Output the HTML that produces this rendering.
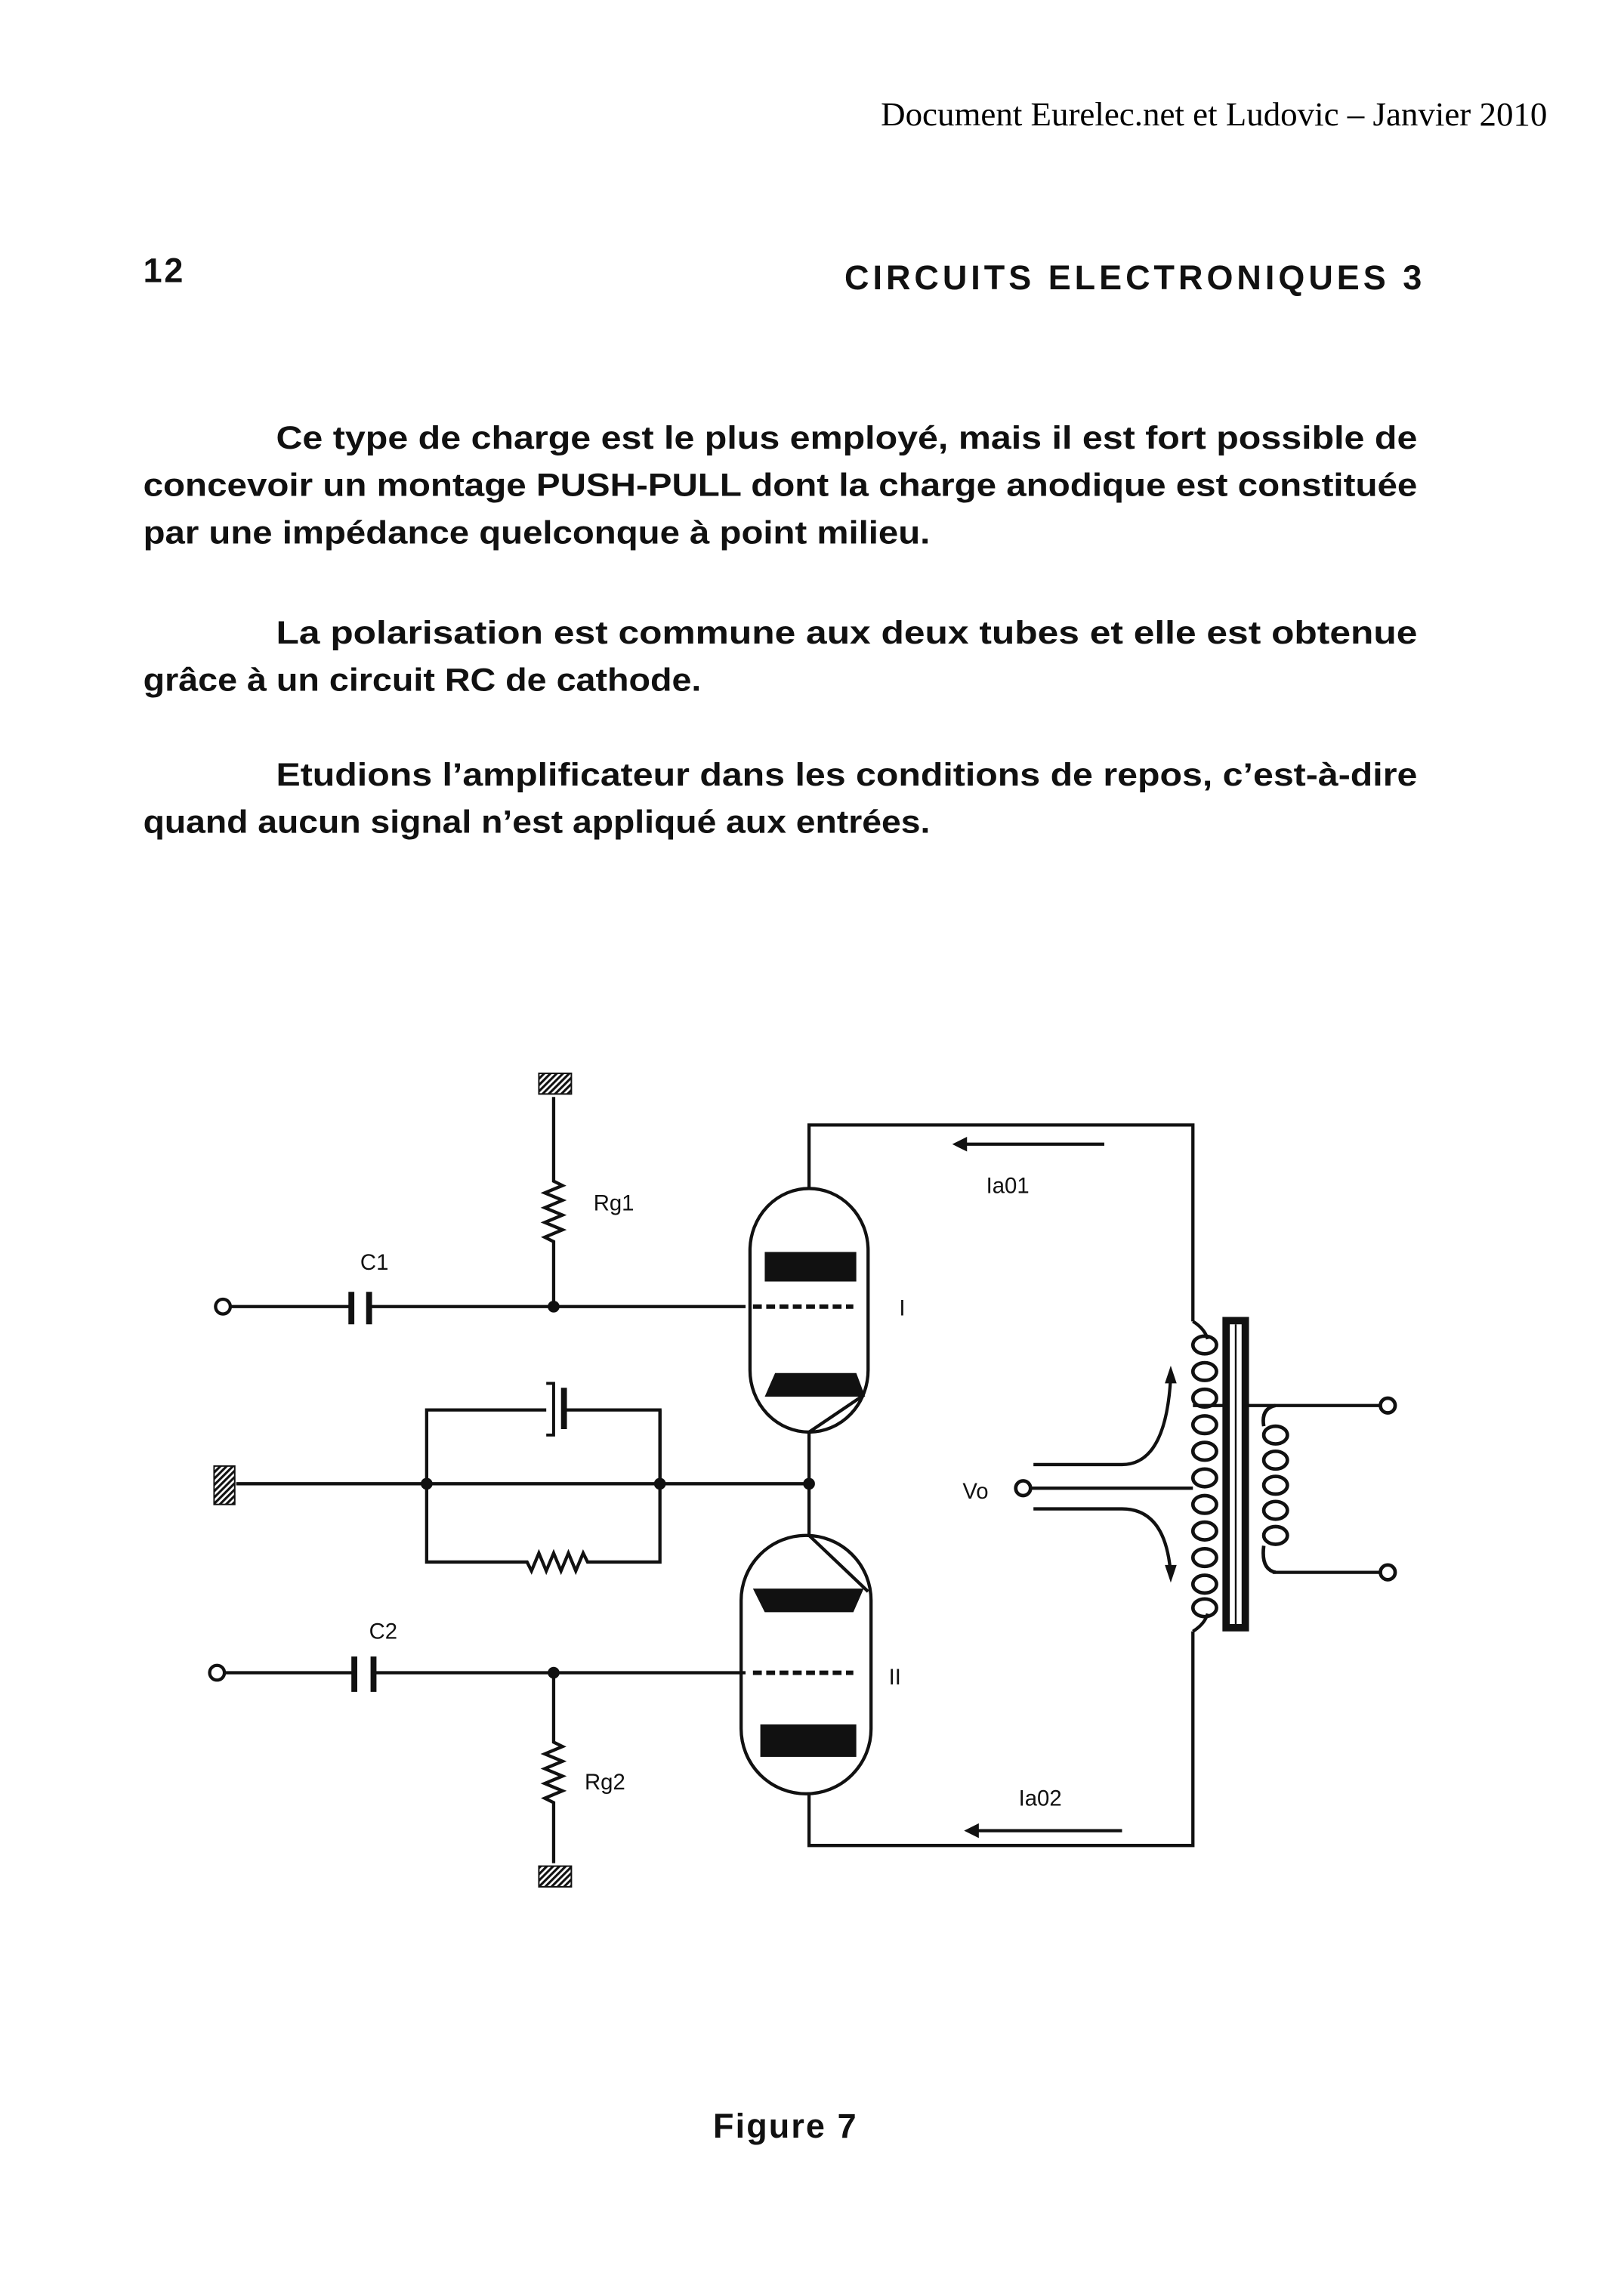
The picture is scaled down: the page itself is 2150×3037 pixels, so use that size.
<!DOCTYPE html>
<html><head><meta charset="utf-8"><style>
html,body{margin:0;padding:0;background:#fff;}
svg{display:block;}
.t{font-family:"Liberation Sans Narrow","Liberation Sans",sans-serif;font-weight:bold;fill:#111;}
.s{font-family:"Liberation Sans",sans-serif;fill:#111;}
</style></head><body>
<svg width="2150" height="3037" viewBox="0 0 1100 1553.8" xmlns="http://www.w3.org/2000/svg">
<defs>
<pattern id="h" width="3" height="3" patternUnits="userSpaceOnUse" patternTransform="rotate(45)">
<rect width="3" height="3" fill="#fff"/><rect width="1.6" height="3" fill="#111"/></pattern>
</defs>
<rect width="1100" height="1553.8" fill="#fff"/>
<text x="1048" y="85" text-anchor="end" font-family="Liberation Serif,serif" font-size="23" fill="#000">Document Eurelec.net et Ludovic – Janvier 2010</text>
<text class="t" x="97" y="191" font-size="23" textLength="27">12</text>
<text class="t" x="572" y="196" font-size="23" textLength="391" lengthAdjust="spacing">CIRCUITS ELECTRONIQUES 3</text>
<g class="t" font-size="22">
<text x="187" y="304" textLength="773" lengthAdjust="spacingAndGlyphs">Ce type de charge est le plus employé, mais il est fort possible de</text>
<text x="97" y="336" textLength="863" lengthAdjust="spacingAndGlyphs">concevoir un montage PUSH-PULL dont la charge anodique est constituée</text>
<text x="97" y="368" textLength="533" lengthAdjust="spacingAndGlyphs">par une impédance quelconque à point milieu.</text>
<text x="187" y="436" textLength="773" lengthAdjust="spacingAndGlyphs">La polarisation est commune aux deux tubes et elle est obtenue</text>
<text x="97" y="468" textLength="378" lengthAdjust="spacingAndGlyphs">grâce à un circuit RC de cathode.</text>
<text x="187" y="532" textLength="773" lengthAdjust="spacingAndGlyphs">Etudions l’amplificateur dans les conditions de repos, c’est-à-dire</text>
<text x="97" y="564" textLength="533" lengthAdjust="spacingAndGlyphs">quand aucun signal n’est appliqué aux entrées.</text>
<text x="483" y="1448" font-size="23" textLength="97">Figure 7</text>
</g>
<g stroke="#111" stroke-width="2.2" fill="none">
<path d="M375 743 V800 l6 3 l-12 5 l12 5 l-12 5 l12 5 l-12 5 l12 5 l-12 5 l6 3 V885"/>
<circle cx="151" cy="885" r="5" fill="#fff"/>
<path d="M156 885 H238 M251 885 H505"/>
<path d="M238 875 V897 M250 875 V897" stroke-width="4"/>
<path d="M510 885 H578" stroke-dasharray="6 3" stroke-width="3"/>
<rect x="508" y="805" width="80" height="165" rx="40" ry="42"/>
<path d="M548 805 V762 H808 V895"/>
<path d="M548 970 L585 945"/>
<path d="M548 970 V1040"/>
<rect x="502" y="1040" width="88" height="175" rx="44" ry="44"/>
<path d="M548 1040 L588 1078"/>
<path d="M548 1215 V1250 H808 V1105"/>
<circle cx="147" cy="1133" r="5" fill="#fff"/>
<path d="M152 1133 H240 M253 1133 H505"/>
<path d="M240 1122 V1146 M253 1122 V1146" stroke-width="4"/>
<path d="M510 1133 H578" stroke-dasharray="6 3" stroke-width="3"/>
<path d="M375 1133 V1180 l6 3 l-12 5 l12 5 l-12 5 l12 5 l-12 5 l12 5 l-12 5 l6 3 V1262"/>
<path d="M160 1005 H548"/>
<path d="M289 1005 V955 H370 M382 955 H447 V1058 H398 l-3 -6 l-5 12 l-5 -12 l-5 12 l-5 -12 l-5 12 l-5 -12 l-5 12 l-3 -6 H289 V1005"/>
<path d="M447 955 V1005"/>
<path d="M382 940 V968" stroke-width="4"/>
<path d="M370 937 H375 V972 H370" stroke-width="2"/>
<path d="M652 775 H748 M660 1240 H760"/>
<path d="M808 895 q8 5 10 12"/>
<path d="M808 1105 q8 -5 10 -12"/>
<path d="M693 1008 H808"/>
<path d="M700 992 H760 q30 0 33 -60"/>
<path d="M700 1022 H760 q30 0 33 45"/>
<path d="M808 952 H940 M862 1065 H940" />
</g>
<g fill="#111">
<circle cx="375" cy="885" r="4"/><circle cx="375" cy="1133" r="4"/>
<circle cx="289" cy="1005" r="4"/><circle cx="447" cy="1005" r="4"/><circle cx="548" cy="1005" r="4"/>
<rect x="518" y="848" width="62" height="20"/>
<path d="M525 930 H580 L586 946 H518 Z"/>
<path d="M510 1076 H585 L578 1092 H518 Z"/>
<rect x="515" y="1168" width="65" height="22"/>
<path d="M645 775 l10 -5 v10 z M653 1240 l10 -5 v10 z"/>
<path d="M793 925 l-4 12 h8 z M793 1072 l-4 -12 h8 z"/>
<rect x="828" y="892" width="18" height="213"/>
</g>
<rect x="833" y="897" width="8" height="203" fill="#fff"/>
<line x1="837" y1="897" x2="837" y2="1100" stroke="#111" stroke-width="1.2"/>
<g fill="url(#h)" stroke="#111" stroke-width="1">
<rect x="365" y="727" width="22" height="14"/>
<rect x="365" y="1264" width="22" height="14"/>
<rect x="145" y="993" width="14" height="26"/>
</g>
<g stroke="#111" stroke-width="2.4" fill="none">
<ellipse cx="816" cy="911" rx="8" ry="6"/><ellipse cx="816" cy="929" rx="8" ry="6"/>
<ellipse cx="816" cy="947" rx="8" ry="6"/><ellipse cx="816" cy="965" rx="8" ry="6"/>
<ellipse cx="816" cy="983" rx="8" ry="6"/><ellipse cx="816" cy="1001" rx="8" ry="6"/>
<ellipse cx="816" cy="1019" rx="8" ry="6"/><ellipse cx="816" cy="1037" rx="8" ry="6"/>
<ellipse cx="816" cy="1055" rx="8" ry="6"/><ellipse cx="816" cy="1073" rx="8" ry="6"/>
<ellipse cx="816" cy="1089" rx="8" ry="6"/>
<ellipse cx="864" cy="972" rx="8" ry="6"/><ellipse cx="864" cy="989" rx="8" ry="6"/>
<ellipse cx="864" cy="1006" rx="8" ry="6"/><ellipse cx="864" cy="1023" rx="8" ry="6"/>
<ellipse cx="864" cy="1040" rx="8" ry="6"/>
<path d="M864 952 q-10 2 -8 14 M864 1065 q-10 -2 -8 -18"/>
<circle cx="940" cy="952" r="5" fill="#fff"/><circle cx="940" cy="1065" r="5" fill="#fff"/>
<circle cx="693" cy="1008" r="5" fill="#fff"/>
</g>
<g class="s" font-size="15">
<text x="402" y="820">Rg1</text>
<text x="244" y="860">C1</text>
<text x="609" y="891">I</text>
<text x="668" y="808">Ia01</text>
<text x="652" y="1015">Vo</text>
<text x="250" y="1110">C2</text>
<text x="602" y="1141">II</text>
<text x="396" y="1212">Rg2</text>
<text x="690" y="1223">Ia02</text>
</g>
</svg>
</body></html>
